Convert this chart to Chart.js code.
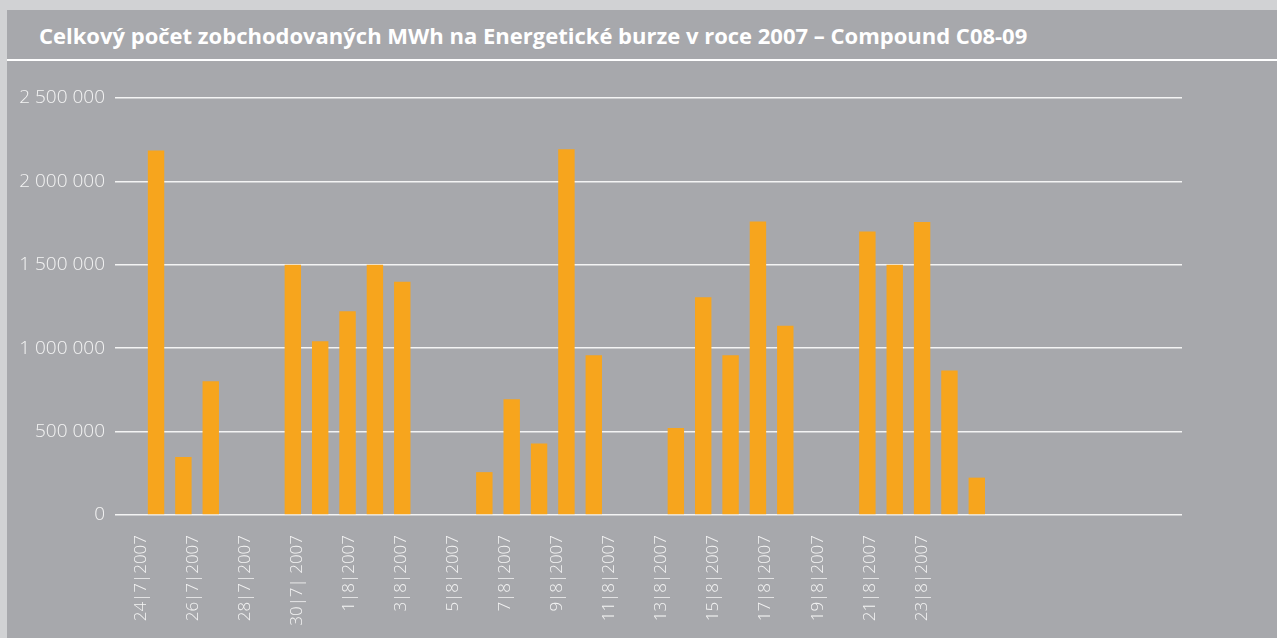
<!DOCTYPE html>
<html>
<head>
<meta charset="utf-8">
<script src="https://cdn.jsdelivr.net/npm/chart.js@4/dist/chart.umd.min.js"></script>
<style>
  html, body { margin: 0; padding: 0; }
  body { width: 1277px; height: 638px; background: #d1d2d4; overflow: hidden; font-family: "Open Sans", sans-serif; }
  #panel { position: absolute; left: 7px; top: 10px; width: 1270px; height: 628px; background: #a7a8ac; }
  #titulek { height: 51px; border-bottom: 2px solid #ffffff; color: #ffffff; font-weight: 700; font-size: 22px;
             line-height: 51px; padding-left: 32px; box-sizing: border-box; white-space: nowrap; }
  #obal { position: relative; width: 1270px; height: 575px; }
</style>
</head>
<body>
<div id="panel">
  <div id="titulek">Celkový počet zobchodovaných MWh na Energetické burze v roce 2007 – Compound C08-09</div>
  <div id="obal"><canvas id="graf"></canvas></div>
</div>
<script>
// dny obchodovani (24/7 - 31/8 2007)
const dny = [
  "24/7", "25/7", "26/7", "27/7", "28/7", "29/7", "30/7", "31/7",
  "1/8", "2/8", "3/8", "4/8", "5/8", "6/8", "7/8", "8/8", "9/8", "10/8",
  "11/8", "12/8", "13/8", "14/8", "15/8", "16/8", "17/8", "18/8", "19/8", "20/8",
  "21/8", "22/8", "23/8", "24/8", "25/8", "26/8", "27/8", "28/8", "29/8", "30/8", "31/8"
];
const mwh = [
  null, 2186000, 347000, 802000, null, null, 1500000, 1042000,
  1222000, 1500000, 1398000, null, null, 257000, 694000, 429000, 2192000, 958000,
  null, null, 521000, 1306000, 958000, 1759000, 1134000, null, null, 1700000,
  1500000, 1756000, 866000, 224000, null, null, null, null, null, null, null
];

// popisky osy x (kazdy druhy den)
const popisky = [
  "24|7|2007", "26|7|2007", "28|7|2007", "30|7| 2007", "1|8|2007", "3|8|2007",
  "5|8|2007", "7|8|2007", "9|8|2007", "11|8|2007", "13|8|2007", "15|8|2007",
  "17|8|2007", "19|8|2007", "21|8|2007", "23|8|2007"
];

const yTicks = [0, 500000, 1000000, 1500000, 2000000, 2500000];

const bila = "#f4f4f4";

// osa popisku ma vlastni rozestup (42 pozic, popisek na kazde druhe)
const popiskyOsy = [""];
popisky.forEach(p => popiskyOsy.push(p, ""));
while (popiskyOsy.length < 42) popiskyOsy.push("");

function formatCislo(v) {
  return String(v).replace(/\B(?=(\d{3})+(?!\d))/g, " ");
}

new Chart(document.getElementById("graf"), {
  type: "bar",
  data: {
    labels: dny,
    datasets: [{
      label: "MWh",
      data: mwh,
      backgroundColor: "#f7a51d",
      categoryPercentage: 1,
      barPercentage: 0.6
    }]
  },
  options: {
    responsive: true,
    maintainAspectRatio: false,
    animation: false,
    layout: { padding: { left: 0, right: 95, top: 37, bottom: 0 } },
    plugins: {
      legend: { display: false },
      tooltip: { enabled: false }
    },
    scales: {
      x: {
        type: "category",
        display: false,
        offset: true
      },
      xl: {
        type: "category",
        position: "bottom",
        labels: popiskyOsy,
        offset: false,
        grid: { display: false, drawTicks: false },
        border: { display: false },
        afterFit: scale => { scale.height = 121; },
        ticks: {
          autoSkip: false,
          minRotation: 90,
          maxRotation: 90,
          padding: 20,
          color: bila,
          font: { family: "Open Sans", size: 17, weight: 300 }
        }
      },
      y: {
        min: 0,
        max: 2500000,
        afterBuildTicks: scale => {
          scale.ticks = yTicks.map(v => ({ value: v }));
        },
        afterFit: scale => { scale.width = 108; },
        grid: { color: "#f4f4f4", lineWidth: 1.5, drawTicks: false },
        border: { display: false },
        ticks: {
          padding: 10,
          color: bila,
          font: { family: "Open Sans", size: 19, weight: 300 },
          callback: v => formatCislo(v)
        }
      }
    }
  }
});
</script>
</body>
</html>
